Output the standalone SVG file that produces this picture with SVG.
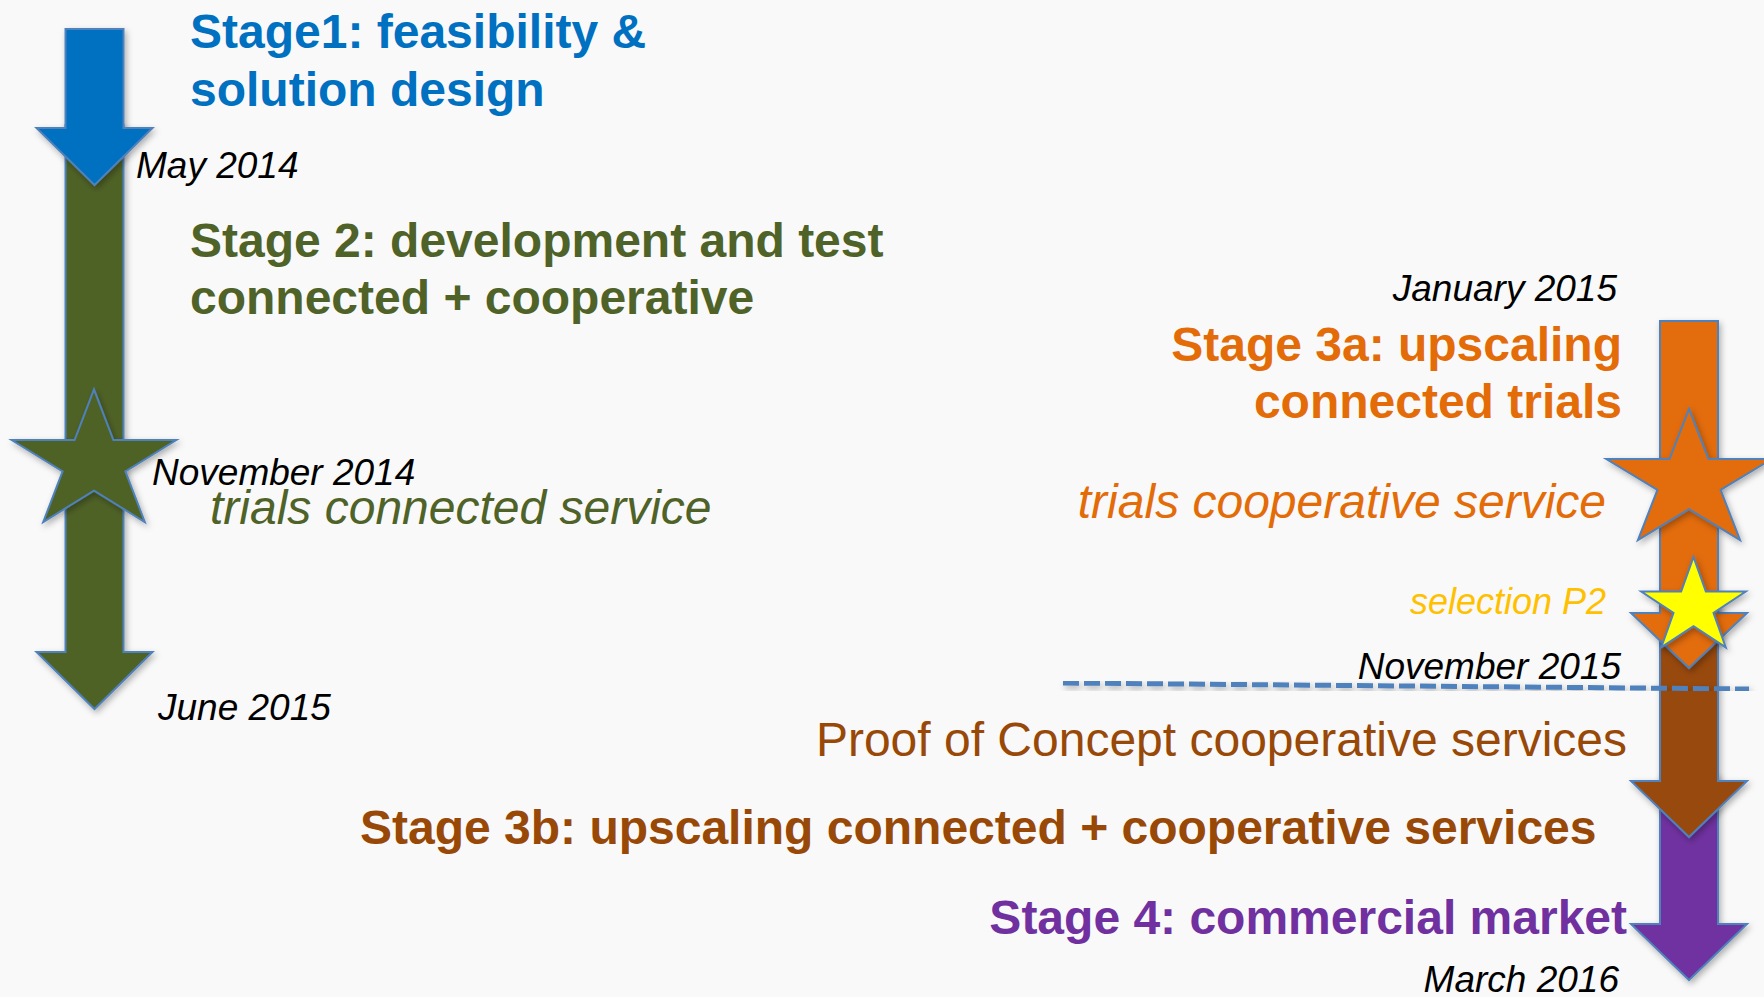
<svg xmlns="http://www.w3.org/2000/svg" width="1764" height="997" viewBox="0 0 1764 997">
<defs>
<style>
text{font-family:"Liberation Sans",Arial,sans-serif}
.b{font-weight:bold;font-size:48px}
.r{font-size:48px}
.i{font-style:italic;font-size:48px}
.d{font-style:italic;font-size:37px;fill:#000}
.e{text-anchor:end}
.shape{stroke:#4F81BD;stroke-width:2;stroke-linejoin:miter;filter:url(#sh)}
</style>
<filter id="sh" x="-20%" y="-20%" width="140%" height="140%">
<feDropShadow dx="2" dy="3" stdDeviation="3" flood-color="#000" flood-opacity="0.3"/>
</filter>
</defs>
<rect width="1764" height="997" fill="#F9F9F9"/>

<g id="stage2-arrow">
<polygon class="shape" fill="#4F6228" points="65.5,125 123.5,125 123.5,652 152.5,652 94.5,709 36.5,652 65.5,652"/>
</g>
<g id="stage1-arrow">
<polygon class="shape" fill="#0070C0" points="65.5,29 123.5,29 123.5,128 152.5,128 94.5,185 36.5,128 65.5,128"/>
</g>
<g id="star-nov2014">
<polygon class="shape" fill="#4F6228" points="94,389.4 113.4,440.05 176.3,440.05 125.4,471.35 144.8,522 94,490.7 43.2,522 62.6,471.35 11.7,440.05 74.6,440.05"/>
</g>

<g id="stage4-arrow">
<polygon class="shape" fill="#7030A0" points="1660,775 1718,775 1718,924 1747,924 1689,980 1631,924 1660,924"/>
</g>
<g id="stage3b-arrow">
<polygon class="shape" fill="#984807" points="1660,605 1718,605 1718,781 1747,781 1689,837 1631,781 1660,781"/>
</g>
<g id="stage3a-arrow">
<polygon class="shape" fill="#E36C09" points="1660,321 1718,321 1718,613 1747,613 1689,668 1631,613 1660,613"/>
</g>
<g id="star-cooperative">
<polygon class="shape" fill="#E36C09" points="1689,408.9 1708.5,459 1771.7,459 1720.6,489.96 1740.1,540.05 1689,509.1 1637.9,540.05 1657.4,489.96 1606.3,459 1669.5,459"/>
</g>
<g id="star-selection">
<polygon class="shape" fill="#FFFF00" points="1693.5,557 1705.85,591.55 1745.8,591.55 1713.5,612.9 1725.8,647.45 1693.5,626.1 1661.2,647.45 1673.5,612.9 1641.2,591.55 1681.15,591.55"/>
</g>

<g id="connectors">
<line x1="1063" y1="683" x2="1749" y2="689" stroke="#4F81BD" stroke-width="5" stroke-dasharray="16 5" filter="url(#sh)"/>
</g>

<g id="label-stage1">
<text class="b" fill="#0070C0" x="190" y="48">Stage1: feasibility &amp;</text>
<text class="b" fill="#0070C0" x="190" y="106">solution design</text>
</g>
<g id="label-may2014"><text class="d" x="136" y="178">May 2014</text></g>
<g id="label-stage2">
<text class="b" fill="#4F6228" x="190" y="257">Stage 2: development and test</text>
<text class="b" fill="#4F6228" x="190" y="314">connected + cooperative</text>
</g>
<g id="label-nov2014"><text class="d" x="152" y="485">November 2014</text></g>
<g id="label-trials-connected"><text class="i" fill="#4F6228" x="210" y="524">trials connected service</text></g>
<g id="label-june2015"><text class="d" x="158" y="720">June 2015</text></g>

<g id="label-jan2015"><text class="d e" x="1617" y="301">January 2015</text></g>
<g id="label-stage3a">
<text class="b e" fill="#E36C09" x="1622" y="361">Stage 3a: upscaling</text>
<text class="b e" fill="#E36C09" x="1622" y="418">connected trials</text>
</g>
<g id="label-trials-cooperative"><text class="i e" fill="#E36C09" x="1606" y="518">trials cooperative service</text></g>
<g id="label-selection"><text class="e" fill="#FFC000" font-style="italic" font-size="36" x="1606" y="614">selection P2</text></g>
<g id="label-nov2015"><text class="d e" x="1621" y="679">November 2015</text></g>
<g id="label-poc"><text class="r e" fill="#984807" x="1627" y="756">Proof of Concept cooperative services</text></g>
<g id="label-stage3b"><text class="b" fill="#984807" x="360" y="844">Stage 3b: upscaling connected + cooperative services</text></g>
<g id="label-stage4"><text class="b e" fill="#7030A0" x="1627" y="934">Stage 4: commercial market</text></g>
<g id="label-mar2016"><text class="d e" x="1619" y="992">March 2016</text></g>
</svg>
